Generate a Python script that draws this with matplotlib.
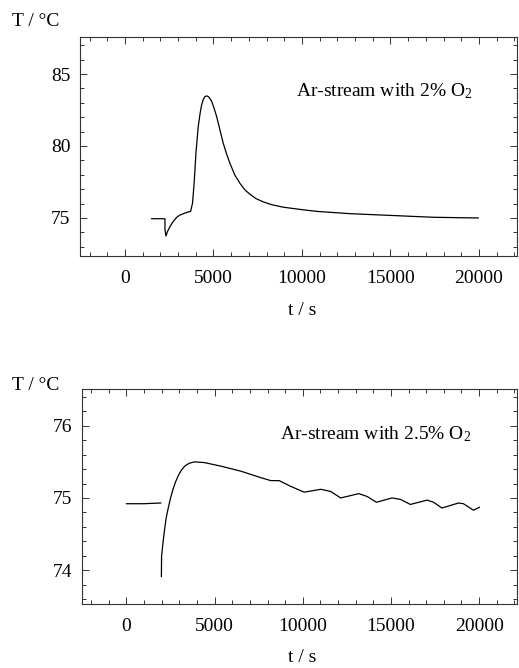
import matplotlib
matplotlib.use("Agg")
import matplotlib.pyplot as plt
from matplotlib.ticker import MultipleLocator

plt.rcParams['font.family'] = ['Liberation Serif', 'DejaVu Serif']
plt.rcParams['mathtext.fontset'] = 'custom'
plt.rcParams['mathtext.rm'] = 'Liberation Serif'
plt.rcParams['mathtext.it'] = 'Liberation Serif:italic'

# ---- Data: top panel (2% O2) ----
top_t = [1510, 2260, 2260, 2316, 2400, 2540, 2720, 2920, 3100, 3300, 3500, 3710,
         3820, 3920, 4010, 4140, 4250, 4330, 4430, 4520, 4620, 4710, 4800, 4900,
         5040, 5180, 5350, 5550, 5740, 5930, 6200, 6500, 6780, 7060, 7400, 7810,
         8300, 8940, 10000, 10830, 12710, 15540, 17420, 19960]
top_T = [74.95, 74.95, 74.2, 73.75, 74.05, 74.4, 74.75, 75.04, 75.2, 75.3, 75.39, 75.46,
         76.04, 77.64, 79.5, 81.35, 82.3, 82.85, 83.25, 83.43, 83.48, 83.43, 83.3, 83.1,
         82.6, 82.05, 81.2, 80.2, 79.45, 78.8, 78.0, 77.4, 76.95, 76.65, 76.35, 76.12,
         75.92, 75.75, 75.58, 75.46, 75.3, 75.15, 75.05, 75.0]

# ---- Data: bottom panel (2.5% O2) ----
bot_flat_t = [0, 1000, 1940]
bot_flat_T = [74.92, 74.92, 74.93]
bot_t = [1980, 1990, 2080, 2160, 2250, 2350, 2500, 2640, 2780, 2920, 3100, 3300,
         3550, 3860, 4420, 5370, 6500, 7630, 8190, 8660, 9320, 10080, 11020, 11580,
         12150, 13180, 13650, 14180, 15060, 15540, 16100, 17050, 17420, 17890, 18830,
         19110, 19680, 20020]
bot_T = [73.91, 74.19, 74.4, 74.56, 74.72, 74.84, 75.0, 75.12, 75.22, 75.3, 75.38, 75.44,
         75.48, 75.5, 75.49, 75.44, 75.37, 75.28, 75.24, 75.24, 75.16, 75.08, 75.12, 75.09,
         75.0, 75.06, 75.02, 74.94, 75.0, 74.98, 74.91, 74.97, 74.94, 74.86, 74.93,
         74.92, 74.83, 74.87]

xticks = [0, 5000, 10000, 15000, 20000]
top_yticks = [75, 80, 85]
bot_yticks = [74, 75, 76]

W, H = 519, 668
fig = plt.figure(figsize=(W / 100, H / 100), dpi=100)

def style(ax):
    for s in ax.spines.values():
        s.set_linewidth(0.8)
        s.set_color('#333333')
    ax.tick_params(which='both', direction='in', top=True, right=True,
                   labelsize=14, width=0.7, colors='#333333', labelcolor='black')
    ax.tick_params(which='major', length=5)
    ax.tick_params(which='minor', length=3)
    ax.tick_params(axis='x', pad=10)
    ax.tick_params(axis='y', pad=7)
    ax.set_xticks(xticks)
    ax.xaxis.set_minor_locator(MultipleLocator(1000))

ax1 = fig.add_axes([80 / W, 1 - 256 / H, (517 - 80) / W, (256 - 37) / H])
ax1.plot(top_t, top_T, color='black', lw=0.9)
ax1.set_xlim(-2540, 22150)
ax1.set_ylim(72.36, 87.57)
style(ax1)
ax1.set_yticks(top_yticks)
ax1.yaxis.set_minor_locator(MultipleLocator(1))
ax1.text(14630, 83.84, 'Ar-stream with 2% O$_2$', ha='center', va='center', fontsize=14)

ax2 = fig.add_axes([81.7 / W, 1 - 604 / H, (517 - 81.7) / W, (604 - 389) / H])
ax2.plot(bot_flat_t, bot_flat_T, color='black', lw=0.9)
ax2.plot(bot_t, bot_T, color='black', lw=0.9)
ax2.set_xlim(-2540, 22150)
ax2.set_ylim(73.53, 76.51)
style(ax2)
ax2.set_yticks(bot_yticks)
ax2.yaxis.set_minor_locator(MultipleLocator(0.2))
ax2.text(14120, 75.88, 'Ar-stream with 2.5% O$_2$', ha='center', va='center', fontsize=14)

fig.text(36 / W, 1 - 22 / H, 'T / °C', ha='center', va='center', fontsize=14)
fig.text(36 / W, 1 - 385 / H, 'T / °C', ha='center', va='center', fontsize=14)
fig.text(302 / W, 1 - 311 / H, 't / s', ha='center', va='center', fontsize=14)
fig.text(302 / W, 1 - 657 / H, 't / s', ha='center', va='center', fontsize=14)

fig.savefig('out.png', dpi=100)
